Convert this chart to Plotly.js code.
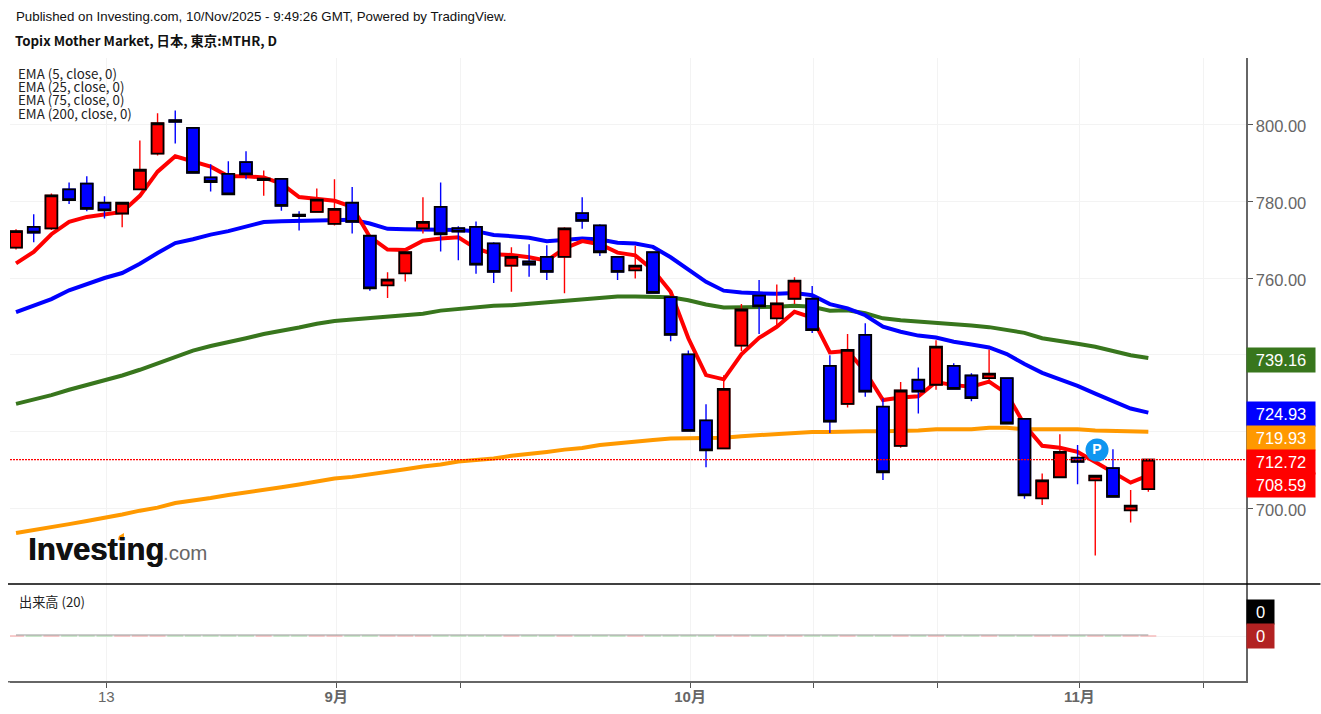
<!DOCTYPE html>
<html>
<head>
<meta charset="utf-8">
<script src="https://cdn.plot.ly/plotly-3.0.1.min.js"></script>
<style>
html, body { margin: 0; padding: 0; background: #fff; }
#chart { width: 1321px; height: 714px; }
</style>
</head>
<body>
<div id="chart"></div>
<script>
"use strict"
const opens = [767.9, 773.3, 772.9, 783.1, 784.6, 779.6, 776.8, 783.1, 792.4, 801.1, 799.1, 786.2, 787.1, 790.2, 785.5, 785.8, 776.5, 777.2, 774.1, 779.6, 771.0, 758.1, 761.2, 772.9, 778.5, 773.0, 773.3, 769.0, 763.2, 764.3, 765.5, 765.5, 776.9, 773.7, 765.5, 762.0, 766.7, 755.0, 740.1, 722.9, 715.6, 742.4, 755.4, 749.5, 754.6, 754.6, 737.1, 727.2, 745.2, 726.5, 716.3, 733.5, 732.2, 737.1, 734.6, 733.9, 733.9, 723.3, 702.6, 708.1, 713.2, 707.3, 710.5, 699.5, 705.0];
const closes = [772.2, 771.8, 781.5, 780.3, 778.0, 777.6, 779.6, 788.2, 800.3, 800.7, 787.4, 785.0, 781.8, 787.0, 785.9, 778.8, 776.1, 780.4, 778.0, 774.6, 757.3, 759.6, 766.7, 774.6, 771.4, 772.1, 763.5, 761.6, 765.5, 763.5, 761.6, 772.9, 774.9, 766.7, 761.6, 763.2, 756.1, 745.2, 720.2, 715.1, 731.1, 751.8, 752.6, 753.4, 759.3, 746.4, 722.6, 741.3, 730.4, 709.4, 730.7, 730.4, 742.1, 731.1, 728.7, 735.1, 722.1, 703.4, 707.3, 714.7, 712.1, 708.5, 703.0, 700.7, 712.72];
const highs = [772.7, 776.6, 782.0, 784.9, 786.5, 781.3, 779.6, 795.8, 802.9, 803.6, 799.1, 789.6, 790.4, 793.0, 788.0, 785.8, 777.4, 783.3, 785.7, 783.7, 771.0, 761.5, 766.7, 781.0, 784.9, 773.5, 774.7, 769.3, 768.0, 768.8, 768.5, 773.2, 781.0, 774.0, 765.7, 768.4, 766.8, 755.0, 741.1, 727.1, 734.7, 753.2, 759.5, 758.3, 760.2, 757.9, 739.9, 745.4, 748.2, 728.6, 732.9, 736.7, 743.8, 737.8, 735.2, 741.4, 733.9, 723.3, 709.1, 719.3, 716.5, 708.5, 715.4, 704.8, 712.72];
const lows = [767.4, 769.3, 772.5, 779.3, 777.4, 775.5, 773.2, 783.1, 791.9, 795.0, 787.4, 782.5, 781.8, 785.7, 781.4, 777.5, 772.4, 777.2, 773.7, 771.6, 756.7, 754.8, 759.1, 771.6, 766.9, 764.6, 761.1, 758.7, 756.4, 760.3, 759.5, 756.0, 772.8, 765.7, 759.5, 759.9, 756.0, 743.5, 720.2, 710.7, 715.6, 741.0, 745.4, 747.7, 753.2, 745.7, 719.6, 726.3, 729.1, 707.4, 715.8, 724.7, 730.9, 731.1, 727.9, 733.0, 722.1, 702.5, 700.9, 708.1, 706.3, 687.7, 703.0, 696.3, 704.3];

const ema5 = [763.8, 766.8, 771.4, 774.6, 775.9, 776.6, 777.2, 781.4, 787.7, 791.7, 790.3, 789.0, 786.5, 786.5, 786.2, 784.6, 781.1, 780.7, 780.1, 778.5, 770.7, 767.4, 767.3, 769.7, 770.3, 770.6, 767.7, 766.2, 766.0, 765.4, 764.5, 767.7, 769.6, 768.8, 766.6, 765.9, 762.1, 756.4, 744.3, 734.7, 733.6, 740.1, 744.4, 747.3, 751.2, 749.7, 740.6, 741.0, 735.6, 728.2, 728.9, 729.2, 732.9, 732.1, 731.7, 733.0, 729.9, 721.7, 716.3, 715.8, 714.7, 712.1, 709.5, 706.7, 708.59];
const ema25 = [751.1, 752.9, 754.5, 756.8, 758.4, 760.0, 761.3, 763.7, 766.5, 769.1, 770.1, 771.3, 772.2, 773.4, 774.6, 774.8, 774.9, 775.2, 775.3, 775.2, 774.2, 772.8, 772.7, 772.7, 772.5, 772.5, 772.2, 771.2, 770.9, 770.5, 769.6, 769.9, 770.3, 770.0, 769.2, 769.0, 768.1, 765.4, 762.3, 759.0, 756.7, 756.2, 756.0, 755.9, 756.1, 755.5, 753.2, 752.1, 750.3, 747.3, 746.0, 745.0, 744.5, 743.4, 742.7, 741.9, 740.2, 737.6, 735.3, 733.7, 731.9, 729.9, 727.9, 726.0, 724.93];
const ema75 = [727.2, 728.3, 729.5, 730.9, 732.1, 733.3, 734.6, 736.1, 737.8, 739.5, 741.1, 742.3, 743.2, 744.3, 745.4, 746.2, 747.1, 748.1, 748.8, 749.2, 749.6, 749.9, 750.3, 750.7, 751.5, 752.0, 752.5, 752.8, 752.9, 753.3, 753.7, 754.1, 754.5, 754.9, 755.2, 755.2, 755.2, 755.0, 754.2, 753.1, 752.3, 752.3, 752.3, 752.5, 752.8, 752.5, 751.5, 751.6, 750.8, 749.5, 749.0, 748.7, 748.3, 748.0, 747.6, 747.2, 746.4, 745.7, 744.3, 743.7, 742.9, 742.1, 741.0, 739.9, 739.16];
const ema200 = [693.6, 694.3, 695.1, 695.9, 696.7, 697.5, 698.4, 699.4, 700.2, 701.4, 702.0, 702.7, 703.5, 704.1, 704.8, 705.5, 706.2, 707.0, 707.8, 708.2, 708.8, 709.5, 710.2, 710.9, 711.4, 712.2, 712.6, 713.0, 713.7, 714.1, 714.7, 715.3, 715.7, 716.5, 717.0, 717.4, 717.8, 718.2, 718.2, 718.3, 718.4, 718.8, 719.1, 719.5, 719.7, 719.9, 719.9, 720.1, 720.1, 720.1, 720.1, 720.3, 720.6, 720.6, 720.6, 721.0, 721.0, 720.6, 720.6, 720.6, 720.6, 720.3, 720.2, 719.9, 719.93];

const volume = new Array(65).fill(0);
const volumeMa = new Array(65).fill(1);

const tick_index = [5.1, 18.1, 25.1, 38.1, 45.1, 52.1, 60.1, 67.1];
const tick_labels = ["13", "<b>9月</b>", "", "<b>10月</b>", "", "", "<b>11月</b>", ""];
const price_ticks = [700, 720, 740, 760, 780, 800];
const price_labels = ["700.00", "", "", "760.00", "780.00", "800.00"];

const last_values = [739.16, 724.93, 719.93, 712.72, 708.59];
const last_colors = ["#38761d", "#0000ff", "#ff9900", "#ff0000", "#ff0000"];
const last_centers = [359.5, 413.5, 437.5, 461.5, 485.5];

const volume_labels = ["0", "0"];
const volume_colors = ["#000000", "#b22222"];
const volume_centers = [612, 636];

const index_x = opens.map((v, i) => i);
const body_high = opens.map((v, i) => Math.max(v, closes[i]));
const body_low = opens.map((v, i) => Math.min(v, closes[i]));
const vol_colors = opens.map((v, i) => closes[i] >= v ? "#f6bcbc" : "#bfe3bf");

// 页面像素换算到paper坐标
const PL = 10, PR = 1246.5, PT = 58, PB = 681;
const px = v => (v - PL) / (PR - PL);
const py = v => 1 - (v - PT) / (PB - PT);

const sans = "'Liberation Sans', 'Noto Sans CJK JP', sans-serif";
const cjk = "'Noto Sans CJK JP', sans-serif";
const y_range = [680.3, 817.3];
const x_range = [-0.34, 69.52];
const last_close = closes[closes.length - 1];

function ema_trace(name, values, color) {
    return {
        type: "scatter", mode: "lines", name: name, x: index_x, y: values,
        xaxis: "x", yaxis: "y", hoverinfo: "skip",
        line: { color: color, width: 4 }
    };
}

const traces = [
    ema_trace("EMA 200", ema200, "#ff9900"),
    ema_trace("EMA 75", ema75, "#38761d"),
    ema_trace("EMA 25", ema25, "#0000ff"),
    ema_trace("EMA 5", ema5, "#ff0000"),
    {
        type: "bar", x: index_x, y: volume, xaxis: "x", yaxis: "y2", hoverinfo: "skip",
        width: 0.9,
        marker: { color: vol_colors, line: { color: vol_colors, width: 1.5 } }
    },
    {
        type: "scatter", mode: "lines", x: index_x, y: volumeMa, xaxis: "x", yaxis: "y2", hoverinfo: "skip",
        line: { color: "#999999", width: 1 }
    },
    // 影线
    {
        type: "candlestick", x: index_x, open: opens, high: highs, low: lows, close: closes,
        xaxis: "x", yaxis: "y3", hoverinfo: "skip",
        increasing: { line: { color: "#ff0000", width: 1.4 }, fillcolor: "#ff0000" },
        decreasing: { line: { color: "#0000ff", width: 1.4 }, fillcolor: "#0000ff" }
    },
    // 实体，黑色边框
    {
        type: "candlestick", x: index_x, open: opens, high: body_high, low: body_low, close: closes,
        xaxis: "x", yaxis: "y3", hoverinfo: "skip",
        increasing: { line: { color: "#000000", width: 1.8 }, fillcolor: "#ff0000" },
        decreasing: { line: { color: "#000000", width: 1.8 }, fillcolor: "#0000ff" }
    },
    // 现价虚线
    {
        type: "scatter", mode: "lines", x: x_range, y: [last_close, last_close],
        xaxis: "x", yaxis: "y3", hoverinfo: "skip",
        line: { color: "#ff0000", width: 1.3, dash: "2px,1px" }
    },
    {
        type: "scatter", mode: "markers+text", x: [61.1], y: [715.2], text: ["<b>P</b>"],
        xaxis: "x", yaxis: "y3", hoverinfo: "skip", textposition: "middle center",
        textfont: { family: sans, size: 14, color: "#ffffff" },
        marker: { size: 23, color: "#0f96f0" }
    }
];

function text_note(text, x, y, size, family, color) {
    return {
        text: text, xref: "paper", yref: "paper", x: px(x), y: py(y),
        xanchor: "left", yanchor: "middle", showarrow: false, align: "left",
        borderpad: 0, font: { family: family, size: size, color: color }
    };
}

function value_label(text, color, center, width) {
    return {
        text: text, xref: "paper", yref: "paper", x: px(1246), y: py(center),
        xanchor: "left", yanchor: "middle", showarrow: false,
        width: width, height: 24, borderpad: 0, align: "center", bgcolor: color,
        font: { family: sans, size: 16.5, color: "#ffffff" }
    };
}

const logo_word = text_note("<b>Investing</b>", 27, 549, 31, sans, "#111111");
logo_word.font.shadow = "0.6px 0 0 #111111";

const annotations = [
    text_note("Published on Investing.com, 10/Nov/2025 - 9:49:26 GMT, Powered by TradingView.", 15, 17, 13.3, sans, "#111111"),
    text_note("<b>Topix Mother Market, 日本, 東京:MTHR, D</b>", 14, 40, 13.3, cjk, "#111111"),
    text_note("EMA (5, close, 0)", 17, 73, 13.3, cjk, "#222222"),
    text_note("EMA (25, close, 0)", 17, 86.5, 13.3, cjk, "#222222"),
    text_note("EMA (75, close, 0)", 17, 100, 13.3, cjk, "#222222"),
    text_note("EMA (200, close, 0)", 17, 113.5, 13.3, cjk, "#222222"),
    text_note("出来高 (20)", 18, 601, 13.2, cjk, "#222222"),
    logo_word,
    text_note(".com", 162, 552, 20.5, sans, "#666666")
];
last_values.forEach((v, i) => annotations.push(value_label(v.toFixed(2), last_colors[i], last_centers[i], 68)));
volume_labels.forEach((t, i) => annotations.push(value_label(t, volume_colors[i], volume_centers[i], 27)));

const shapes = [
    // 分隔线
    {
        type: "line", xref: "paper", yref: "paper", x0: px(8), x1: px(1321), y0: py(584), y1: py(584),
        line: { color: "#000000", width: 1.5 }
    },
    // x轴向左多出的一小段
    {
        type: "line", xref: "paper", yref: "paper", x0: px(8), x1: px(10), y0: py(681.7), y1: py(681.7),
        line: { color: "#666666", width: 1.5 }
    },
    // logo的橙色角标
    {
        type: "path", xref: "paper", yref: "paper", line: { width: 0 }, fillcolor: "#ff9900",
        path: `M ${px(118)} ${py(540)} L ${px(119)} ${py(536)} L ${px(124)} ${py(533)} L ${px(124)} ${py(539)} Z`
    }
];
// 标签上的白色刻度
last_centers.concat(volume_centers).forEach(c => shapes.push({
    type: "line", xref: "paper", yref: "paper", x0: px(1248), x1: px(1252), y0: py(c), y1: py(c),
    line: { color: "#ffffff", width: 1 }
}));

const layout = {
    width: 1321, height: 714,
    margin: { l: PL, r: 1321 - PR, t: PT, b: 714 - PB, pad: 0 },
    paper_bgcolor: "#ffffff", plot_bgcolor: "#ffffff",
    showlegend: false, boxgap: 0.18, boxgroupgap: 0.18, bargap: 0.05, hovermode: false,
    font: { family: sans, color: "#666666" },
    xaxis: {
        type: "linear", range: x_range, anchor: "y2", rangeslider: { visible: false },
        tickmode: "array", tickvals: tick_index, ticktext: tick_labels,
        ticks: "outside", ticklen: 5, tickcolor: "#555555", tickwidth: 1,
        ticklabelstandoff: -4,
        tickfont: { family: sans, size: 15, color: "#666666" },
        showgrid: true, gridcolor: "#f3f3f3", gridwidth: 1, zeroline: false,
        showline: true, linecolor: "#666666", linewidth: 1.5
    },
    yaxis: {
        domain: [py(584), 1], range: y_range, side: "right", anchor: "x",
        tickmode: "array", tickvals: price_ticks, ticktext: price_labels,
        ticks: "outside", ticklen: 5, tickcolor: "#555555", tickwidth: 1,
        ticklabelshift: 2,
        tickfont: { family: sans, size: 16.5, color: "#666666" },
        showgrid: true, gridcolor: "#f3f3f3", gridwidth: 1, zeroline: false,
        showline: true, linecolor: "#666666", linewidth: 1.5
    },
    yaxis2: {
        domain: [0, py(584)], range: [-45, 52], side: "right", anchor: "x",
        tickmode: "array", tickvals: [0, 25], showticklabels: false,
        ticks: "outside", ticklen: 5, tickcolor: "#555555", tickwidth: 1,
        showgrid: false, zeroline: true, zerolinecolor: "#f3f3f3", zerolinewidth: 1,
        showline: true, linecolor: "#666666", linewidth: 1.5
    },
    yaxis3: {
        overlaying: "y", range: y_range, side: "right", anchor: "x",
        showgrid: false, showticklabels: false, ticks: "", zeroline: false, showline: false
    },
    annotations: annotations,
    shapes: shapes
};

Plotly.newPlot("chart", traces, layout, { displayModeBar: false, staticPlot: true });
</script>
</body>
</html>
